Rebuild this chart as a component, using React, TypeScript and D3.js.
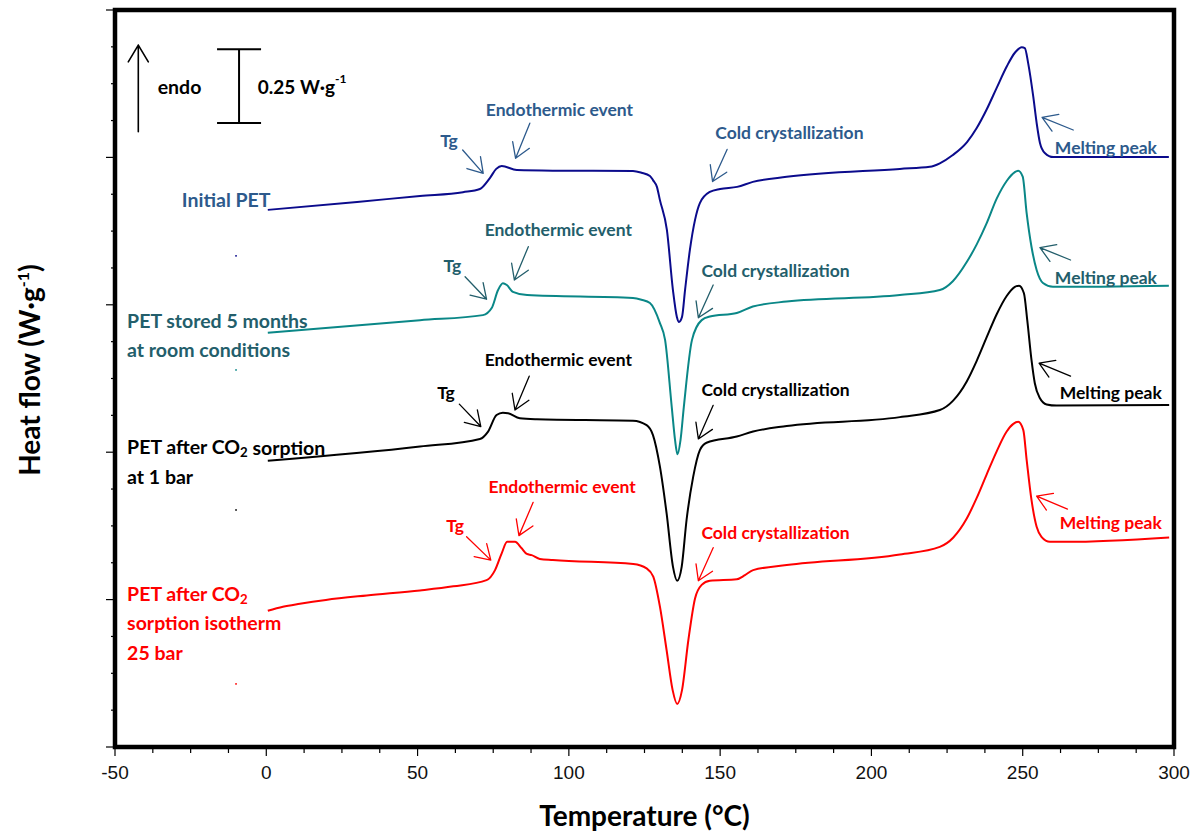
import React from "react";
import * as d3 from "d3";

// ---------- data ----------
const xMajorTicks = [-50, 0, 50, 100, 150, 200, 250, 300];
const xMinorStep = 12.5;
const yMajorStep = 0.5;
const yMinorStep = 0.125;
const xDomain = [-50, 300];
const yDomain = [0, 2.5];

const initialT = [0.5, 30, 50.8, 65, 70.6, 73.9, 76, 77.8, 82.8, 94.7, 121.2, 124, 126.8, 127.8, 129.1, 130.1, 132.4, 134.4, 135.7, 136.4, 137.4, 138.4, 140, 141.7, 143.3, 146.6, 150, 155.6, 160.8, 172, 209.4, 219.3, 222.6, 226.9, 231.6, 234.7, 238.2, 241.4, 244.8, 247.4, 249.7, 250.7, 251.8, 253.5, 254.6, 255.7, 257.3, 260.1, 298.3];
const initialHF = [1.822, 1.849, 1.869, 1.882, 1.893, 1.93, 1.961, 1.971, 1.957, 1.955, 1.954, 1.948, 1.937, 1.923, 1.9, 1.855, 1.754, 1.55, 1.459, 1.442, 1.459, 1.55, 1.686, 1.788, 1.845, 1.883, 1.893, 1.9, 1.917, 1.934, 1.961, 1.968, 1.98, 2.008, 2.052, 2.098, 2.165, 2.236, 2.31, 2.355, 2.374, 2.371, 2.32, 2.205, 2.117, 2.049, 2.015, 2.001, 2.001];

const storedT = [0.5, 50.8, 71.6, 74.5, 76.6, 78.2, 79.5, 81.5, 86.2, 121.2, 124, 126.8, 130.1, 131.8, 134.0, 135.1, 135.9, 136.9, 138.0, 140.7, 143.9, 146.6, 155.5, 160.8, 172, 209.4, 222.6, 226.9, 231.5, 234.8, 238.1, 241.4, 244.7, 247.4, 248.5, 250.0, 251.3, 252.9, 254.6, 256.7, 260, 298.3];
const storedHF = [1.405, 1.448, 1.465, 1.489, 1.55, 1.573, 1.567, 1.544, 1.533, 1.523, 1.517, 1.506, 1.438, 1.381, 1.154, 1.041, 0.993, 1.041, 1.154, 1.381, 1.448, 1.46, 1.472, 1.494, 1.511, 1.533, 1.55, 1.58, 1.645, 1.705, 1.777, 1.86, 1.92, 1.95, 1.955, 1.935, 1.811, 1.697, 1.618, 1.574, 1.561, 1.565];

const co2OneBarT = [0.5, 50.8, 70.6, 73.3, 76.1, 78.2, 79.9, 83.8, 89.4, 121.2, 125.7, 127.8, 130.1, 132.3, 134.4, 135.8, 137.3, 138.9, 141.1, 143.3, 145.5, 155.5, 160.9, 172, 209.4, 222.6, 227.0, 231.5, 234.8, 238.1, 241.4, 244.7, 247.4, 248.8, 250.4, 251.5, 252.9, 254.0, 255.7, 257.9, 261.2, 298.4];
const co2OneBarHF = [0.971, 1.019, 1.045, 1.07, 1.126, 1.134, 1.132, 1.115, 1.112, 1.107, 1.092, 1.058, 0.951, 0.793, 0.612, 0.564, 0.612, 0.77, 0.917, 1.007, 1.032, 1.053, 1.07, 1.089, 1.119, 1.143, 1.175, 1.24, 1.31, 1.39, 1.468, 1.53, 1.561, 1.565, 1.539, 1.448, 1.313, 1.234, 1.183, 1.162, 1.158, 1.16];

const co2IsothermT = [0.5, 5.5, 11.1, 19.7, 33.2, 50.8, 61.8, 72.8, 75.6, 77.8, 79.6, 82.2, 84.4, 86.1, 87.7, 90.4, 94.7, 121.3, 125.7, 127.9, 130.1, 132.3, 134.3, 135.8, 137.4, 139.5, 141.7, 143.9, 146.6, 155.5, 158.2, 160.9, 172, 209.4, 222.6, 227.0, 231.5, 234.8, 238.1, 241.4, 244.7, 246.9, 248.5, 250.2, 251.3, 252.9, 254.6, 256.2, 259, 264.5, 298.4];
const co2IsothermHF = [0.462, 0.476, 0.486, 0.499, 0.514, 0.531, 0.545, 0.566, 0.6, 0.657, 0.696, 0.696, 0.674, 0.655, 0.651, 0.638, 0.634, 0.621, 0.606, 0.578, 0.476, 0.329, 0.193, 0.146, 0.193, 0.363, 0.504, 0.55, 0.564, 0.569, 0.583, 0.6, 0.617, 0.653, 0.679, 0.71, 0.775, 0.845, 0.925, 1.003, 1.07, 1.096, 1.103, 1.075, 0.974, 0.838, 0.747, 0.713, 0.696, 0.696, 0.711];

// start markers (small dots at -10 °C)
const markerT = -10;
const markerHF = [1.666, 1.279, 0.804, 0.214];

// series labels
const seriesLabels = [
  ["Initial PET"],
  ["PET stored 5 months", "at room conditions"],
  ["PET after CO2 sorption", "at 1 bar"],
  ["PET after CO2", "sorption isotherm", "25 bar"],
];
const seriesLabelT = [-27.9, -46.0, -46.0, -46.0];
const seriesLabelHF = [[1.856], [1.448, 1.347], [1.018, 0.919], [0.522, 0.424, 0.322]];

// annotations: [textT, textHF, fromT, fromHF, toT, toHF]
const tgNotes = [
  [60.4, 2.059, 64.9, 2.025, 71.7, 1.946],
  [61.5, 1.632, 65.7, 1.595, 72.8, 1.519],
  [59.4, 1.204, 63.8, 1.163, 70.9, 1.087],
  [62.4, 0.753, 66.2, 0.713, 74.2, 0.634],
];
const endoNotes = [
  [96.9, 2.161, 87.1, 2.116, 82.4, 1.997],
  [96.5, 1.754, 86.6, 1.697, 82.0, 1.584],
  [96.5, 1.313, 86.9, 1.258, 82.2, 1.143],
  [97.8, 0.885, 88.2, 0.83, 83.5, 0.717],
];
const coldNotes = [
  [172.9, 2.086, 152.3, 2.027, 147.5, 1.918],
  [168.3, 1.618, 147.7, 1.567, 142.8, 1.456],
  [168.3, 1.211, 147.7, 1.159, 142.8, 1.045],
  [168.3, 0.726, 147.7, 0.676, 142.8, 0.564],
];
const meltNotes = [
  [277.5, 2.035, 266.7, 2.093, 256.4, 2.136],
  [277.5, 1.594, 265.8, 1.652, 255.7, 1.694],
  [279.1, 1.204, 265.8, 1.258, 255.4, 1.302],
  [279.1, 0.763, 264.8, 0.807, 254.6, 0.851],
];
const noteTexts = ["Tg", "Endothermic event", "Cold crystallization", "Melting peak"];

// legend: endo arrow and 0.25 W/g scale bar
const endoArrowT = -42.3;
const endoArrowHF = [2.087, 2.381];
const endoTextPos = [-35.9, 2.242];
const scaleBarT = -9;
const scaleBarTopHF = 2.367;
const scaleBarSpan = 0.25;
const scaleTextPos = [-2.8, 2.242];

// ---------- styles ----------
const W = 1196;
const H = 832;
const curveColors = ["#0b0b8c", "#0a8787", "#000000", "#ff0000"];
const textColors = ["#2d5a8c", "#235e6b", "#000000", "#ff0000"];
const FONT = "Lato, 'Open Sans', sans-serif";

function Arrow({ x1, y1, x2, y2, color, len = 17, spread = 0.56, width = 1.3 }: any) {
  const ang = Math.atan2(y1 - y2, x1 - x2);
  const ax = x2 + len * Math.cos(ang + spread);
  const ay = y2 + len * Math.sin(ang + spread);
  const bx = x2 + len * Math.cos(ang - spread);
  const by = y2 + len * Math.sin(ang - spread);
  return (
    <path
      d={`M${x1},${y1}L${x2},${y2}M${ax},${ay}L${x2},${y2}L${bx},${by}`}
      fill="none"
      stroke={color}
      strokeWidth={width}
      strokeLinecap="round"
      strokeLinejoin="round"
    />
  );
}

function LabelLine({ text, size }: { text: string; size: number }) {
  const i = text.indexOf("CO2");
  if (i < 0) return <>{text}</>;
  const before = text.slice(0, i);
  const after = text.slice(i + 3);
  return (
    <>
      {before + "CO"}
      <tspan dy={size * 0.28} fontSize={size * 0.68}>2</tspan>
      <tspan dy={-size * 0.28}>{after}</tspan>
    </>
  );
}

export default function App() {
  const x = d3.scaleLinear().domain(xDomain).range([115, 1174]);
  const y = d3.scaleLinear().domain(yDomain).range([747, 10]);

  const series = [
    [initialT, initialHF],
    [storedT, storedHF],
    [co2OneBarT, co2OneBarHF],
    [co2IsothermT, co2IsothermHF],
  ];
  const line = d3
    .line<[number, number]>()
    .x((d) => x(d[0]))
    .y((d) => y(d[1]))
    .curve(d3.curveMonotoneX);

  const xMinor = d3.range(xDomain[0], xDomain[1] + 0.01, xMinorStep);
  const yMinor = d3.range(yDomain[0], yDomain[1] + 0.01, yMinorStep);
  const yMajor = d3.range(yDomain[0], yDomain[1] + 0.01, yMajorStep);

  const notesAll = [tgNotes, endoNotes, coldNotes, meltNotes];

  const x0 = x(xDomain[0]);
  const x1 = x(xDomain[1]);
  const yb = y(yDomain[0]);
  const yt = y(yDomain[1]);

  return (
    <svg
      width={W}
      height={H}
      style={{ position: "absolute", left: 0, top: 0, background: "#fff" }}
      fontFamily={FONT}
    >
      <rect x={0} y={0} width={W} height={H} fill="#fff" />

      {/* curves */}
      {series.map((s, i) => (
        <path
          key={"c" + i}
          d={line(s[0].map((t, j) => [t, s[1][j]]) as [number, number][]) || ""}
          fill="none"
          stroke={curveColors[i]}
          strokeWidth={2}
          strokeLinejoin="round"
        />
      ))}

      {/* start markers */}
      {markerHF.map((v, i) => (
        <rect key={"m" + i} x={x(markerT) - 0.8} y={y(v) - 0.8} width={1.6} height={1.6} fill={curveColors[i]} />
      ))}

      {/* series labels */}
      {seriesLabels.map((lines, i) =>
        lines.map((ln, j) => (
          <text
            key={"l" + i + "_" + j}
            x={x(seriesLabelT[i])}
            y={y(seriesLabelHF[i][j])}
            dominantBaseline="central"
            fontSize={19.5}
            fontWeight={700}
            fill={textColors[i]}
          >
            <LabelLine text={ln} size={19.5} />
          </text>
        ))
      )}

      {/* annotations */}
      {notesAll.map((notes, k) =>
        notes.map((n, i) => (
          <g key={"n" + k + "_" + i}>
            <text
              x={x(n[0])}
              y={y(n[1])}
              textAnchor="middle"
              dominantBaseline="central"
              fontSize={17.5}
              fontWeight={700}
              fill={textColors[i]}
            >
              {noteTexts[k]}
            </text>
            <Arrow x1={x(n[2])} y1={y(n[3])} x2={x(n[4])} y2={y(n[5])} color={textColors[i]} />
          </g>
        ))
      )}

      {/* endo arrow */}
      <Arrow
        x1={x(endoArrowT)}
        y1={y(endoArrowHF[0])}
        x2={x(endoArrowT)}
        y2={y(endoArrowHF[1])}
        color="#000"
        len={19.5}
        spread={0.54}
        width={1.6}
      />
      <text x={x(endoTextPos[0])} y={y(endoTextPos[1])} dominantBaseline="central" fontSize={19.5} fontWeight={700} fill="#000">
        endo
      </text>

      {/* scale bar */}
      <g stroke="#000" strokeWidth={2} fill="none">
        <line x1={x(scaleBarT)} x2={x(scaleBarT)} y1={y(scaleBarTopHF)} y2={y(scaleBarTopHF - scaleBarSpan)} />
        <line x1={x(scaleBarT) - 22} x2={x(scaleBarT) + 22} y1={y(scaleBarTopHF)} y2={y(scaleBarTopHF)} />
        <line
          x1={x(scaleBarT) - 22}
          x2={x(scaleBarT) + 22}
          y1={y(scaleBarTopHF - scaleBarSpan)}
          y2={y(scaleBarTopHF - scaleBarSpan)}
        />
      </g>
      <text x={x(scaleTextPos[0])} y={y(scaleTextPos[1])} dominantBaseline="central" fontSize={19} fontWeight={700} fill="#000">
        {scaleBarSpan + " W·g"}
        <tspan dy={-8} fontSize={12}>-1</tspan>
      </text>

      {/* axes ticks */}
      <g stroke="#000" strokeWidth={1.2}>
        {xMinor.map((t) => {
          const major = xMajorTicks.includes(t);
          return <line key={"xt" + t} x1={x(t)} x2={x(t)} y1={yb} y2={yb + (major ? 9 : 6)} />;
        })}
        {yMinor.map((v) => {
          const major = yMajor.some((m) => Math.abs(m - v) < 1e-6);
          return <line key={"yt" + v} x1={x0} x2={x0 - (major ? 9 : 4)} y1={y(v)} y2={y(v)} />;
        })}
      </g>
      {xMajorTicks.map((t) => (
        <text
          key={"xl" + t}
          x={x(t)}
          y={yb + 32}
          textAnchor="middle"
          fontFamily="'Liberation Sans', Arial, sans-serif"
          fontSize={19}
          fill="#111"
        >
          {t}
        </text>
      ))}

      {/* frame */}
      <rect x={x0} y={yt} width={x1 - x0} height={yb - yt} fill="none" stroke="#000" strokeWidth={4.5} />

      {/* axis titles */}
      <text x={(x0 + x1) / 2} y={826} textAnchor="middle" fontSize={28} fontWeight={700} fill="#000">
        Temperature (°C)
      </text>
      <text
        transform={`translate(40,370) rotate(-90)`}
        textAnchor="middle"
        fontSize={28}
        fontWeight={700}
        fill="#000"
      >
        Heat flow (W·g
        <tspan dy={-11} fontSize={16}>-1</tspan>
        <tspan dy={11}>)</tspan>
      </text>
    </svg>
  );
}
